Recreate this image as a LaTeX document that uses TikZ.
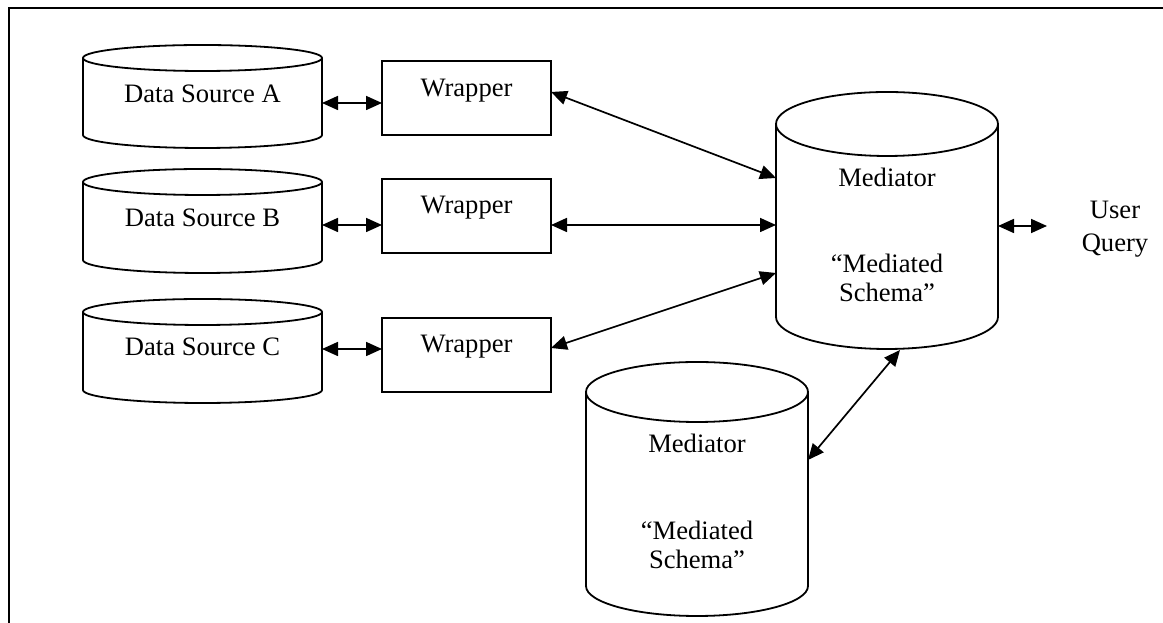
\documentclass[tikz,border=0pt]{standalone}
\usepackage{fontspec}
\setmainfont{Liberation Serif}
\usetikzlibrary{arrows.meta}

% database cylinder: name, centre x, top-ellipse y, bottom-ellipse y, x radius, y radius
\newcommand\dbcyl[6]{%
  \node[cylbody, minimum width={2*#5}, minimum height={#3-#4}] (#1) at (#2,{(#3+#4)/2}) {};
  \draw[outline] ({#2-#5},#3) -- ({#2-#5},#4)
     arc[start angle=180, end angle=360, x radius=#5, y radius=#6]
     -- ({#2+#5},#3);
  \draw[outline] (#2,#3) ellipse[x radius=#5, y radius=#6];
}

\begin{document}
\begin{tikzpicture}[x=1pt, y=1pt,
  outline/.style={line width=1.8pt, black},
  cylbody/.style={inner sep=0pt, outer sep=0pt, draw=none},
  wrapbox/.style={draw, line width=1.8pt, minimum width=169pt, minimum height=74pt,
                  inner sep=0pt, outer sep=0pt},
  lbl/.style={anchor=base, inner sep=0pt, font=\fontsize{26.6}{30}\selectfont},
  link/.style={line width=1.7pt, {Triangle[length=16pt, width=14pt]}-{Triangle[length=16pt, width=14pt]}}
]
\useasboundingbox (0,0) rectangle (1163,623);

% frame
\draw[line width=1.8pt] (9,-5) -- (9,615) -- (1170,615);

% data sources
\dbcyl{dsa}{202.5}{565}{488}{119.5}{13}
\dbcyl{dsb}{202.5}{441}{363}{119.5}{13}
\dbcyl{dsc}{202.5}{311}{233}{119.5}{13}
\node[lbl] (dsa-t) at (202.5,520) {Data Source A};
\node[lbl] (dsb-t) at (202.5,396) {Data Source B};
\node[lbl] (dsc-t) at (202.5,267) {Data Source C};

% wrappers
\node[wrapbox] (wa) at (466.5,525) {};
\node[wrapbox] (wb) at (466.5,407) {};
\node[wrapbox] (wc) at (466.5,268) {};
\node[lbl] (wa-t) at ([yshift=-36pt]wa.north) {Wrapper};
\node[lbl] (wb-t) at ([yshift=-35pt]wb.north) {Wrapper};
\node[lbl] (wc-t) at ([yshift=-35pt]wc.north) {Wrapper};

% mediators
\dbcyl{med}{887}{499}{306}{111}{32}
\dbcyl{medb}{697}{231}{37}{111}{30}
\node[lbl] (med-t1) at (887,436) {Mediator};
\node[lbl] (med-t2) at (887,350) {“Mediated};
\node[lbl] (med-t3) at (887,321) {Schema”};
\node[lbl] (medb-t1) at (697,170) {Mediator};
\node[lbl] (medb-t2) at (697,83) {“Mediated};
\node[lbl] (medb-t3) at (697,54) {Schema”};

% user query
\node[lbl] (uq-t1) at (1115,404) {User};
\node[lbl] (uq-t2) at (1115,371) {Query};
\coordinate (uq) at (1047,397);

% connectors
\draw[link] ([yshift=-6.5pt]dsa.east) -- ([yshift=-5pt]wa.west);
\draw[link] ([yshift=-4pt]dsb.east) -- ([yshift=-9pt]wb.west);
\draw[link] ([yshift=2pt]dsc.east) -- ([yshift=6pt]wc.west);

\draw[link] ([yshift=6pt]wa.east) -- ([yshift=42.5pt]med.west);
\draw[link] ([yshift=-9pt]wb.east) -- ([yshift=-4.5pt]med.west);
\draw[link] ([yshift=7pt]wc.east) -- ([yshift=-52.5pt]med.west);

\draw[link] ([yshift=-5.5pt]med.east) -- (uq);
\draw[link] ([yshift=29pt]medb.east) -- ([xshift=13pt, yshift=-33pt]med.south);
\end{tikzpicture}
\end{document}
